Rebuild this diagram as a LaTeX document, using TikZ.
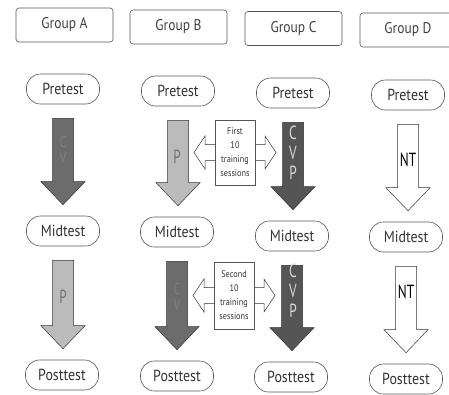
\documentclass[tikz,border=0pt]{standalone}
\usepackage{fontspec}
\setmainfont{PT Sans}
\newfontfamily\condfont[FakeStretch=0.87]{PT Sans}
\newfontfamily\narrowfont[FakeStretch=0.7]{PT Sans}
\usetikzlibrary{calc}
\definecolor{darkA}{HTML}{6C6C6C}
\definecolor{darkC}{HTML}{555555}
\definecolor{lightP}{HTML}{BBBBBB}
\definecolor{edge}{HTML}{555555}
\newcommand\fatarrow[3]{%
  \draw[line width=0.5pt, draw=black!80, fill=#3] let \p1=($(#1.south)+(0,14)$), \p2=($(#2.north)+(0,-11)$) in
  (\x1-10.5pt,\y1) -- (\x1+10.5pt,\y1) -- (\x1+10.5pt,\y2+23pt) -- (\x1+22pt,\y2+23pt) -- (\x1,\y2)
  -- (\x1-22pt,\y2+23pt) -- (\x1-10.5pt,\y2+23pt) -- cycle;}
\newcommand\dblarrow[1]{%
  \draw[line width=0.5pt, draw=black!80, fill=white] let \p1=(#1) in
  (\x1-20pt,\y1+8pt) -- (\x1-30pt,\y1+8pt) -- (\x1-30pt,\y1+16.5pt) -- (\x1-41pt,\y1) -- (\x1-30pt,\y1-16.5pt) -- (\x1-30pt,\y1-8pt) -- (\x1-20pt,\y1-8pt)
  -- (\x1+20pt,\y1-8pt) -- (\x1+30pt,\y1-8pt) -- (\x1+30pt,\y1-16.5pt) -- (\x1+41pt,\y1) -- (\x1+30pt,\y1+16.5pt) -- (\x1+30pt,\y1+8pt) -- (\x1+20pt,\y1+8pt) -- cycle;}
\begin{document}
\begin{tikzpicture}[x=1pt,y=-1pt,
  grp/.style={draw=edge, line width=0.6pt, rounded corners=3pt, minimum width=97pt, minimum height=34pt, inner sep=0pt, font=\condfont\fontsize{15.5}{17}\selectfont, text=black!75},
  test/.style={draw=edge, line width=0.6pt, rounded corners=14pt, minimum width=73pt, minimum height=30pt, inner sep=0pt, font=\condfont\fontsize{16}{18}\selectfont, text=black!80},
  lbl/.style={font=\narrowfont\fontsize{19}{20}\selectfont, align=center, inner sep=0pt},
  cv/.style={font=\narrowfont\fontsize{16}{16.5}\selectfont, align=center, inner sep=0pt},
  small/.style={draw=edge, fill=white, line width=0.5pt, minimum width=40pt, inner sep=1pt, align=center, font=\condfont\fontsize{9.5}{14}\selectfont, text=black!80},
]
\useasboundingbox[fill=white] (0,0) rectangle (449,394);
% group headers
\node[grp] (gA) at (64.5,25) {Group A};
\node[grp] (gB) at (178.5,27) {Group B};
\node[grp] (gC) at (293.5,28.5) {Group C};
\node[grp, minimum width=100pt] (gD) at (410,30) {\hspace*{-4pt}Group D};
% tests
\node[test] (preA) at (63,89) {Pretest};
\node[test] (preB) at (178,91) {Pretest};
\node[test] (preC) at (293,93) {Pretest};
\node[test] (preD) at (408,95) {Pretest};
\node[test] (midA) at (63,231) {Midtest};
\node[test] (midB) at (177,232) {Midtest};
\node[test] (midC) at (292,236) {Midtest};
\node[test] (midD) at (406,237) {Midtest};
\node[test] (postA) at (62,375) {Posttest};
\node[test] (postB) at (177,376) {Posttest};
\node[test] (postC) at (291,377) {Posttest};
\node[test] (postD) at (406,379) {Posttest};
% block arrows
\fatarrow{preA}{midA}{darkA}
\fatarrow{preB}{midB}{lightP}
\fatarrow{preC}{midC}{darkC}
\fatarrow{preD}{midD}{white}
\fatarrow{midA}{postA}{lightP}
\fatarrow{midB}{postB}{darkA}
\fatarrow{midC}{postC}{darkC}
\fatarrow{midD}{postD}{white}
% arrow labels
\node[cv, text=black!50] (lA1) at (63,150) {C\\V};
\node[lbl, text=black!55] (lB1) at (177,157) {P};
\node[lbl, text=black!15] (lC1) at (293,153) {C\\V\\P};
\node[lbl, text=black] (lD1) at (408,160) {NT};
\node[lbl, text=black!55] (lA2) at (63,297) {P};
\node[cv, text=black!50] (lB2) at (177,297) {C\\V};
\node[lbl, text=black!15] (lC2) at (293,291) {C\\V\\P};
\node[lbl, text=black] (lD2) at (406,292) {NT};
% training session double arrows and boxes
\coordinate (c1) at (235,152.5);
\coordinate (c2) at (234,295.5);
\dblarrow{c1}
\dblarrow{c2}
\node[small, minimum height=65pt] (s1) at (c1) {First\\10\\training\\sessions};
\node[small, minimum height=67pt] (s2) at (c2) {Second\\10\\training\\sessions};
\end{tikzpicture}
\end{document}
